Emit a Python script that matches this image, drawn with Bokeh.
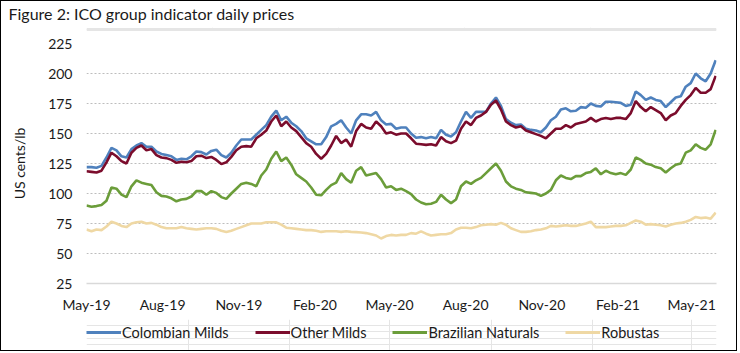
import pandas as pd
from bokeh.plotting import figure
from bokeh.layouts import column
from bokeh.models import (FixedTicker, DatetimeTickFormatter, Legend, LegendItem, Range1d)
from bokeh.embed import file_html
from bokeh.resources import INLINE

FONT = "Lato"

start_date = "2019-05-01"
end_date = "2021-05-30"
axis_start = "2019-05-01"
axis_end = "2021-05-31"

tick_dates = ["2019-05-01", "2019-08-01", "2019-11-01", "2020-02-01", "2020-05-01",
              "2020-08-01", "2020-11-01", "2021-02-01", "2021-05-01"]
y_ticks = [25, 50, 75, 100, 125, 150, 175, 200, 225]

colombian_milds = [
    122, 122, 121.5, 123, 130, 138, 136, 131, 130, 137, 140, 142, 139, 139, 135, 133,
    132, 131, 128, 129, 128.5, 131, 135, 134.5, 132.5, 135.5, 136.5, 132, 130, 134, 140, 145,
    145, 145, 149, 153, 157, 164, 169, 161, 164, 159, 156, 152, 146, 143.5, 141, 141,
    147, 156, 158, 161, 155, 150, 161, 166, 166, 165, 168, 161, 157.5, 158, 154, 155,
    155, 150, 146.5, 147, 146, 147, 146, 153, 149, 147.5, 151, 160, 168, 163, 168, 168,
    168, 175, 180, 173, 162, 159, 157, 157.5, 154, 153, 152.5, 151, 155, 161, 164, 170,
    171, 168.5, 169, 172, 171.5, 175, 173, 172.5, 176.5, 176.5, 176, 175.5, 173, 174, 185, 182,
    178, 180, 178, 177, 172, 176, 180, 181, 189, 192, 200, 196, 193.5, 200, 211,
]
other_milds = [
    118.5, 118, 117.5, 119, 126, 134, 131, 127, 125, 134, 138, 140, 136, 137, 132, 130,
    129.5, 128, 125.6, 126.5, 126, 127, 131, 131.5, 129.5, 130.5, 128, 124.5, 126, 130.5, 136, 139,
    139.5, 139, 146, 149, 152.5, 160, 165, 156, 160, 155, 152, 147, 142, 139, 133, 129,
    133, 140, 148, 142, 145, 139, 152, 158, 155, 154, 160, 156, 150, 151, 149, 150,
    150, 146, 141.5, 141, 140.5, 141, 140, 147, 143.5, 142, 144, 154, 160, 157, 163, 165,
    168, 174, 177.5, 170, 160, 157, 155, 156, 152.5, 151, 149.5, 148, 146, 150, 154, 154,
    157, 155, 158, 159, 160, 163, 160, 162, 163, 162, 163, 163, 162, 167, 177, 172,
    168.5, 172, 169.5, 167, 161, 165, 167, 173, 178, 182, 188, 184, 184, 187, 198,
]
brazilian_naturals = [
    90, 89, 89.5, 90.5, 94, 105, 104, 99, 97, 106, 111, 109, 108, 107, 101, 98,
    97.5, 96, 93.5, 95, 95.5, 97.5, 102, 102, 99, 102, 100.5, 97, 95.5, 100, 104, 108,
    109, 108, 106, 115, 120, 129, 135, 127, 130, 124, 116, 113, 110, 105, 99, 98.5,
    103, 107, 109, 117, 112, 109, 119, 122, 115, 116, 117, 112, 105, 106, 103, 104,
    102, 99.5, 95, 92.5, 91, 91.5, 93, 99, 95, 92, 95, 106, 110, 108, 111, 113,
    117, 121, 125, 119, 110, 106, 104, 103, 101, 100.5, 100, 98, 100, 103, 111, 115,
    113, 112, 114.5, 114.5, 117, 118, 121, 116, 119, 117, 116, 117, 115.5, 120, 130, 128,
    125, 124, 122, 121, 117.5, 121, 124, 125, 134, 136, 141, 138, 136.5, 141, 153,
]
robustas = [
    70, 68.5, 70, 69.5, 72.5, 76.5, 75, 73, 72, 75, 76, 76.5, 75, 75.5, 74, 72,
    71, 71, 71, 72, 71, 70.5, 70, 70.5, 71, 71, 70.5, 69, 68, 69, 70.5, 72,
    73.5, 75, 75, 75, 76, 76, 76, 74, 71.5, 71, 70.5, 70, 69.5, 69.5, 69, 68,
    68.5, 68.5, 68.5, 68, 68.5, 68, 67.8, 67.5, 67, 66, 65, 62.5, 64.5, 65.5, 65, 65.5,
    65.5, 67, 66.5, 68.5, 66.5, 65, 65.5, 66, 66, 67, 70, 71.5, 71.5, 71, 72, 73.5,
    74, 74.5, 74, 75.5, 74, 71, 69.5, 68, 68, 68.5, 69.5, 70, 71, 73, 72.5, 73,
    73.5, 73, 73, 74, 75, 76.5, 72, 72, 72, 72.5, 73, 73, 73.5, 75.5, 77.5, 76.5,
    74, 74.5, 74, 73.5, 72.5, 74, 75, 75.5, 76.5, 78, 80.5, 79.5, 80, 79, 84,
]

series_names = ["Colombian Milds", "Other Milds", "Brazilian Naturals", "Robustas"]
series_colors = ["#4F81BD", "#7B0C2C", "#6B9D3A", "#EFD8A4"]
all_series = [colombian_milds, other_milds, brazilian_naturals, robustas]

dates = pd.date_range(start_date, end_date, periods=len(colombian_milds))
x_rng = Range1d(pd.Timestamp(axis_start), pd.Timestamp(axis_end))


def blank(fig):
    fig.outline_line_color = None
    fig.background_fill_color = "white"
    fig.border_fill_color = "white"


# ---- title strip ----
tf = figure(width=735, height=30, output_backend="svg", toolbar_location=None,
            x_range=Range1d(0, 1), y_range=Range1d(0, 1),
            x_axis_location=None, y_axis_location=None,
            min_border=0, min_border_left=0, min_border_right=0,
            min_border_top=0, min_border_bottom=0)
blank(tf)
tf.title.text = "Figure 2: ICO group indicator daily prices"
tf.title.text_font = FONT
tf.title.text_font_size = "16px"
tf.title.text_font_style = "normal"
tf.title.text_color = "#1a1a1a"
tf.title.align = "left"
tf.title.vertical_align = "top"
tf.title.offset = -78
tf.title.standoff = 5

# ---- main chart ----
p = figure(width=735, height=288, x_axis_type="datetime", output_backend="svg",
           toolbar_location=None, x_range=x_rng, y_range=Range1d(25, 225),
           min_border_left=85, min_border_right=20, min_border_top=12, min_border_bottom=36)
blank(p)
p.title.text = ""
p.title.standoff = 0

p.xgrid.visible = False
p.ygrid.grid_line_color = "#BDBDBD"
p.ygrid.grid_line_dash = "2 2"
p.ygrid.grid_line_width = 1

p.yaxis.ticker = FixedTicker(ticks=y_ticks)
p.yaxis.axis_line_color = None
p.yaxis.major_tick_line_color = None
p.yaxis.minor_tick_line_color = None
p.yaxis.major_label_standoff = 8
p.yaxis.major_label_text_font = FONT
p.yaxis.major_label_text_font_size = "14px"
p.yaxis.major_label_text_color = "#1a1a1a"
p.yaxis.axis_label = "US cents/lb"
p.yaxis.axis_label_text_font = FONT
p.yaxis.axis_label_text_font_size = "14px"
p.yaxis.axis_label_text_font_style = "normal"
p.yaxis.axis_label_text_color = "#1a1a1a"
p.yaxis.axis_label_standoff = 17

tick_ms = [pd.Timestamp(d).value // 10**6 for d in tick_dates]
p.xaxis.ticker = FixedTicker(ticks=tick_ms)
fmt = "%b-%y"
p.xaxis.formatter = DatetimeTickFormatter(days=fmt, months=fmt, years=fmt, hours=fmt,
                                          minutes=fmt, seconds=fmt, milliseconds=fmt,
                                          microseconds=fmt, minsec=fmt, hourmin=fmt)
p.xaxis.axis_line_color = "#D9D9D9"
p.xaxis.axis_line_width = 1.5
p.xaxis.major_tick_line_color = None
p.xaxis.minor_tick_line_color = None
p.xaxis.major_label_standoff = 6
p.xaxis.major_label_text_font = FONT
p.xaxis.major_label_text_font_size = "14px"
p.xaxis.major_label_text_color = "#1a1a1a"

for vals, col in zip(all_series, series_colors):
    p.line(dates, vals, line_color=col, line_width=2.6)

# ---- legend strip (same series, drawn outside its visible range) ----
lg = figure(width=735, height=31, x_axis_type="datetime", output_backend="svg",
            toolbar_location=None, x_range=x_rng, y_range=Range1d(1000, 1001),
            x_axis_location=None, y_axis_location=None,
            min_border=0, min_border_left=0, min_border_right=0,
            min_border_top=0, min_border_bottom=0)
blank(lg)

items = []
for name, vals, col in zip(series_names, all_series, series_colors):
    r = lg.line(dates, vals, line_color=col, line_width=2.8)
    items.append(LegendItem(label=name, renderers=[r]))

legend = Legend(items=items, orientation="horizontal", location=(0, 8),
                glyph_width=35, glyph_height=20, label_height=20, label_standoff=1,
                spacing=26, padding=0, margin=0, border_line_color=None,
                background_fill_alpha=0, label_text_font=FONT,
                label_text_font_size="14.5px", label_text_color="#1a1a1a")
lg.add_layout(legend, "center")

layout = column(tf, p, lg, spacing=0)
layout.styles = {"border": "1.5px solid black"}

open("out.html", "w").write(file_html(layout, INLINE))
